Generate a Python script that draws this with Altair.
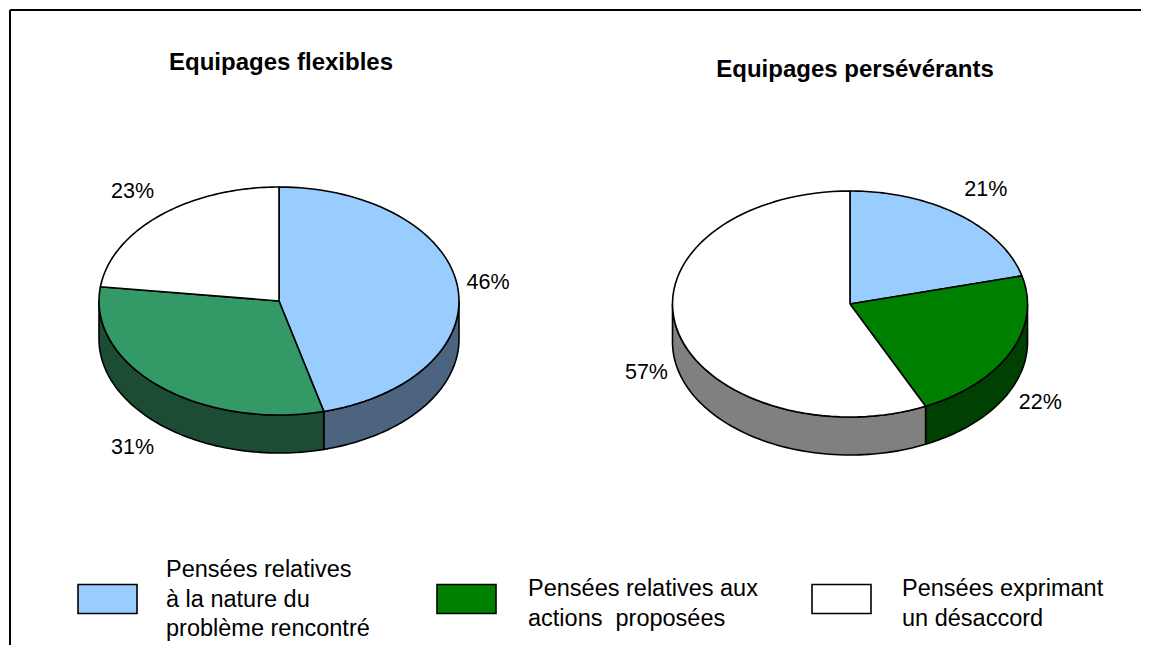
import altair as alt
import pandas as pd

# ---------------- data ----------------
pie_titles = ["Equipages flexibles", "Equipages persévérants"]
categories = [
    "Pensées relatives à la nature du problème rencontré",
    "Pensées relatives aux actions proposées",
    "Pensées exprimant un désaccord",
]
legend_lines = [
    ["Pensées relatives", "à la nature du", "problème rencontré"],
    ["Pensées relatives aux", "actions\u00a0 proposées"],
    ["Pensées exprimant", "un désaccord"],
]
flexibles = [46, 31, 23]
perseverants = [21, 22, 57]
values = {"Equipages flexibles": flexibles, "Equipages persévérants": perseverants}

# ---------------- styles ----------------
top_colors = {
    "Equipages flexibles": ["#99CCFF", "#339966", "#FFFFFF"],
    "Equipages persévérants": ["#99CCFF", "#008000", "#FFFFFF"],
}
side_colors = {
    "Equipages flexibles": ["#4D6480", "#1C4C33", "#808080"],
    "Equipages persévérants": ["#4D6480", "#004000", "#808080"],
}
legend_colors = ["#99CCFF", "#008000", "#FFFFFF"]
FONT = "Liberation Sans"

# ---------------- layout (page pixels) ----------------
layout = {
    "Equipages flexibles": dict(cx=279, cy=301, rx=180, ry=114, depth=38, tx=281, ty=63),
    "Equipages persévérants": dict(cx=850, cy=304, rx=177.5, ry=113, depth=38, tx=855, ty=70),
}
legend_layout = dict(
    rx0=[78, 437, 812], rw=59, ry0=584.5, ry1=613.5,
    tx=[166, 528, 902], ty0=[577, 596, 596], dy=29.5,
)
N = 72

rows = []
for pie in pie_titles:
    for k, cat in enumerate(categories):
        r = dict(pie=pie, k=k, key=f"{pie}-{k}", category=cat,
                 value=values[pie][k], top=top_colors[pie][k], side=side_colors[pie][k])
        r.update(layout[pie])
        rows.append(r)
slices = pd.DataFrame(rows)

titles_df = pd.DataFrame([dict(px=layout[p]["tx"], py=layout[p]["ty"], text=p) for p in pie_titles])

leg_rect = pd.DataFrame([
    dict(px=legend_layout["rx0"][i], px2=legend_layout["rx0"][i] + legend_layout["rw"],
         py=legend_layout["ry0"], py2=legend_layout["ry1"], color=legend_colors[i])
    for i in range(3)
])
leg_text = pd.DataFrame([
    dict(px=legend_layout["tx"][i], py=legend_layout["ty0"][i] + j * legend_layout["dy"], text=line)
    for i in range(3) for j, line in enumerate(legend_lines[i])
])
frame = pd.DataFrame([
    dict(px=10, px2=1141, py=10, py2=10),
    dict(px=10, px2=10, py=10, py2=645),
])

X = alt.X("px:Q", scale=alt.Scale(domain=[8, 1141], nice=False, zero=False), axis=None)
Y = alt.Y("py:Q", scale=alt.Scale(domain=[8, 645], nice=False, zero=False, reverse=True), axis=None)

base = (
    alt.Chart(slices)
    .transform_joinaggregate(total="sum(value)", groupby=["pie"])
    .transform_window(cum="sum(value)", sort=[alt.SortField("k")], groupby=["pie"], frame=[None, 0])
    .transform_calculate(
        a0="2*PI*(datum.cum - datum.value)/datum.total",
        a1="2*PI*datum.cum/datum.total",
    )
)

# side walls (front half only)
sides = (
    base.transform_calculate(s0="max(datum.a0, PI/2)", s1="min(datum.a1, 3*PI/2)")
    .transform_filter("datum.s1 > datum.s0")
    .transform_calculate(steps=f"sequence(0, {2 * N + 3})")
    .transform_flatten(["steps"])
    .transform_calculate(
        t=(f"datum.steps <= {N} ? datum.s0 + (datum.s1 - datum.s0) * datum.steps / {N} : "
           f"(datum.steps <= {2 * N + 1} ? datum.s1 - (datum.s1 - datum.s0) * (datum.steps - {N + 1}) / {N} : datum.s0)"),
        dz=f"(datum.steps > {N} && datum.steps <= {2 * N + 1}) ? datum.depth : 0",
    )
    .transform_calculate(
        px="datum.cx + datum.rx * sin(datum.t)",
        py="datum.cy - datum.ry * cos(datum.t) + datum.dz",
    )
    .mark_line(stroke="black", strokeWidth=1.6, strokeJoin="round")
    .encode(x=X, y=Y, detail="key:N", order=alt.Order("steps:Q"),
            fill=alt.Fill("side:N", scale=None))
)

# top faces
tops = (
    base.transform_calculate(steps=f"sequence(0, {N + 3})")
    .transform_flatten(["steps"])
    .transform_calculate(
        t=f"datum.a0 + (datum.a1 - datum.a0) * clamp(datum.steps - 1, 0, {N}) / {N}",
        isc=f"datum.steps == 0 || datum.steps == {N + 2}",
    )
    .transform_calculate(
        px="datum.isc ? datum.cx : datum.cx + datum.rx * sin(datum.t)",
        py="datum.isc ? datum.cy : datum.cy - datum.ry * cos(datum.t)",
    )
    .mark_line(stroke="black", strokeWidth=1.6, strokeJoin="round")
    .encode(x=X, y=Y, detail="key:N", order=alt.Order("steps:Q"),
            fill=alt.Fill("top:N", scale=None))
)

# percentage labels
lab = base.transform_calculate(
    mid="(datum.a0 + datum.a1) / 2",
).transform_calculate(
    px="datum.cx + (datum.rx + 9) * sin(datum.mid)",
    py="datum.cy - (datum.ry + 31) * cos(datum.mid) + (cos(datum.mid) < 0 ? datum.depth : 0)",
    label="datum.value + '%'",
)
lab_right = lab.transform_filter("sin(datum.mid) >= 0").mark_text(
    align="left", baseline="middle", font=FONT, fontSize=21.5, color="black"
).encode(x=X, y=Y, text="label:N")
lab_left = lab.transform_filter("sin(datum.mid) < 0").mark_text(
    align="right", baseline="middle", font=FONT, fontSize=21.5, color="black"
).encode(x=X, y=Y, text="label:N")

titles = alt.Chart(titles_df).mark_text(
    align="center", baseline="middle", font=FONT, fontSize=24, fontWeight="bold", color="black"
).encode(x=X, y=Y, text="text:N")

legend_boxes = alt.Chart(leg_rect).mark_rect(stroke="black", strokeWidth=1.6).encode(
    x=X, x2="px2:Q", y=Y, y2="py2:Q", fill=alt.Fill("color:N", scale=None)
)
legend_texts = alt.Chart(leg_text).mark_text(
    align="left", baseline="alphabetic", font=FONT, fontSize=23.5, color="black"
).encode(x=X, y=Y, text="text:N")

border = alt.Chart(frame).mark_rule(color="black", strokeWidth=2).encode(
    x=X, x2="px2:Q", y=Y, y2="py2:Q"
)

chart = (
    alt.layer(sides, tops, lab_right, lab_left, titles, legend_boxes, legend_texts, border)
    .properties(width=1133, height=637, padding=0, autosize=alt.AutoSizeParams(type="none"),
                background="white")
    .configure_view(stroke=None)
)

chart.save("out.html", embed_options={"renderer": "svg", "actions": False})
